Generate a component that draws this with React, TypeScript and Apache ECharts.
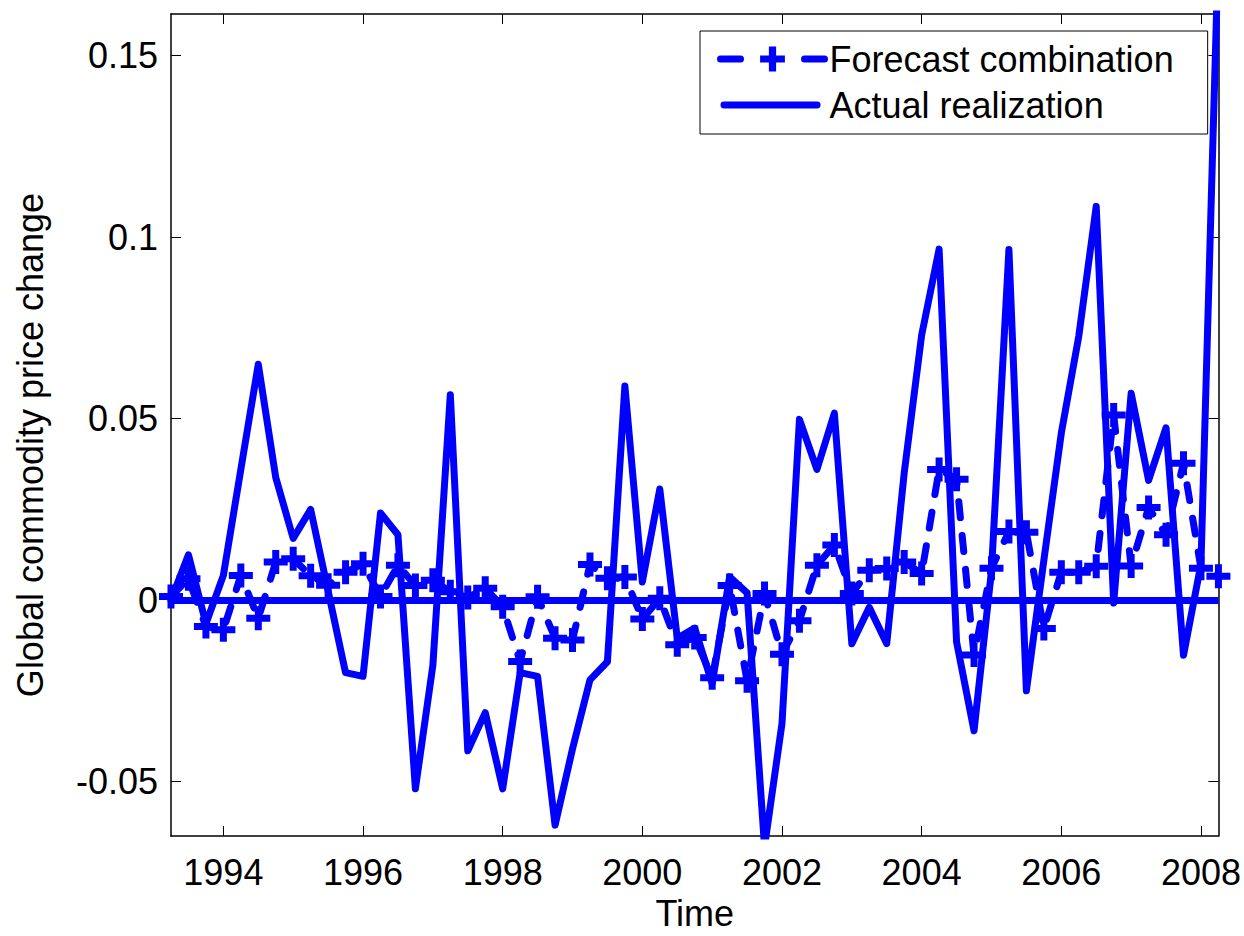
import React, { useEffect, useRef } from "react";
import * as echarts from "echarts";

// Quarterly time axis: first observation 1993.25 (1993Q2), one value per quarter
const startYear = 1993.25;
const quarterStep = 0.25;

const forecastCombination = [
  0.001, 0.0059, -0.0073, -0.0082, 0.0068, -0.005, 0.0105, 0.0114, 0.0067, 0.0041,
  0.0077, 0.01, 0.001, 0.0096, 0.004, 0.0055, 0.0023, 0.0007, 0.0033, -0.0018,
  -0.0169, 0.0009, -0.0105, -0.011, 0.0098, 0.006, 0.0064, -0.0052, 0.0005, -0.0123,
  -0.0103, -0.0214, 0.004, -0.0222, 0.0018, -0.0149, -0.0057, 0.0096, 0.0152, 0.0018,
  0.0082, 0.0087, 0.0105, 0.0073, 0.036, 0.0333, -0.0151, 0.0088, 0.0189, 0.0187,
  -0.0078, 0.0077, 0.0077, 0.0093, 0.051, 0.0094, 0.0255, 0.018, 0.0377, 0.0088,
  0.0066,
];

const actualRealization = [
  0.0, 0.0125, -0.0065, 0.0068, 0.036, 0.065, 0.0338, 0.017, 0.025, 0.0025,
  -0.02, -0.021, 0.024, 0.018, -0.052, -0.018, 0.0566, -0.0415, -0.031, -0.052,
  -0.02, -0.021, -0.062, -0.041, -0.022, -0.017, 0.059, 0.005, 0.0306, -0.0105,
  -0.0077, -0.023, 0.0064, 0.002, -0.068, -0.034, 0.0498, 0.036, 0.0515, -0.012,
  -0.002, -0.012, 0.035, 0.073, 0.0967, -0.0115, -0.036, 0.008, 0.0966, -0.025,
  0.011, 0.046, 0.0727, 0.1085, -0.0008, 0.057, 0.033, 0.0475, -0.0152, 0.0099,
  0.18,
];

const xTickValues = [1994, 1996, 1998, 2000, 2002, 2004, 2006, 2008];
const yTickValues = [-0.05, 0, 0.05, 0.1, 0.15];
const xRange = [1993.25, 2008.25];
const yRange = [-0.065, 0.1615];

const seriesNames = ["Forecast combination", "Actual realization"];
const xTitle = "Time";
const yTitle = "Global commodity price change";

const FONT = "'Liberation Sans', Arial, Helvetica, sans-serif";
const BLUE = "#0000ff";
const PLUS = "path://M8.5,0h7v8.5h8.5v7h-8.5v8.5h-7v-8.5h-8.5v-7h8.5z";
// solid legend sample: a rounded bar inside a 104x31 box (corner dots fix the box)
const SOLID_ICON =
  "path://M0,0h0.01v0.01h-0.01zM103.99,30.99h0.01v0.01h-0.01zM1.5,12h95a3.5,3.5 0 0 1 0,7h-95a3.5,3.5 0 0 1 0,-7z";

export default function App() {
  const ref = useRef<HTMLDivElement>(null);

  useEffect(() => {
    document.body.style.margin = "0";
    const chart = echarts.init(ref.current as HTMLDivElement, null, { renderer: "svg" });
    const toPairs = (vals: number[]) => vals.map((v, i) => [startYear + i * quarterStep, v]);

    const axisLine = { show: true, onZero: false, lineStyle: { color: "#000", width: 1.5 } };
    const tickStyle = { color: "#000", width: 1 };

    const option: any = {
      animation: false,
      backgroundColor: "#fff",
      textStyle: { fontFamily: FONT },
      grid: { left: 171, top: 14, right: 23, bottom: 93, containLabel: false },
      xAxis: [
        {
          type: "value",
          min: xRange[0],
          max: xRange[1],
          position: "bottom",
          axisLine,
          axisTick: { show: true, inside: true, length: 10, lineStyle: tickStyle, customValues: xTickValues },
          axisLabel: {
            show: true,
            customValues: xTickValues,
            formatter: (v: number) => String(v),
            fontSize: 36,
            color: "#000",
            fontFamily: FONT,
            margin: 18,
          },
          splitLine: { show: false },
          name: xTitle,
          nameLocation: "middle",
          nameGap: 59,
          nameTextStyle: { fontSize: 36, color: "#000", fontFamily: FONT },
        },
        {
          type: "value",
          min: xRange[0],
          max: xRange[1],
          position: "top",
          axisLine,
          axisTick: { show: true, inside: true, length: 10, lineStyle: tickStyle, customValues: xTickValues },
          axisLabel: { show: false },
          splitLine: { show: false },
        },
      ],
      yAxis: [
        {
          type: "value",
          min: yRange[0],
          max: yRange[1],
          position: "left",
          axisLine,
          axisTick: { show: true, inside: true, length: 10, lineStyle: tickStyle, customValues: yTickValues },
          axisLabel: {
            show: true,
            customValues: yTickValues,
            formatter: (v: number) => String(v),
            fontSize: 36,
            color: "#000",
            fontFamily: FONT,
            margin: 13,
          },
          splitLine: { show: false },
        },
        {
          type: "value",
          min: yRange[0],
          max: yRange[1],
          position: "right",
          axisLine,
          axisTick: { show: true, inside: true, length: 10, lineStyle: tickStyle, customValues: yTickValues },
          axisLabel: { show: false },
          splitLine: { show: false },
        },
      ],
      legend: {
        left: 700,
        top: 31,
        orient: "vertical",
        align: "left",
        padding: [10, 34, 11, 17],
        itemWidth: 104,
        itemHeight: 31,
        itemGap: 10,
        borderColor: "#000",
        borderWidth: 1,
        backgroundColor: "#fff",
        lineStyle: { type: [20, 64], width: 7 },
        textStyle: { fontSize: 36, color: "#000", fontFamily: FONT },
        data: [
          { name: seriesNames[0] },
          { name: seriesNames[1], icon: SOLID_ICON },
        ],
      },
      graphic: [
        {
          type: "text",
          x: 30,
          y: 445,
          rotation: Math.PI / 2,
          style: {
            text: yTitle,
            fontSize: 36,
            fontFamily: FONT,
            fill: "#000",
            textAlign: "center",
            textVerticalAlign: "middle",
          },
        },
      ],
      series: [
        {
          name: seriesNames[0],
          type: "line",
          data: toPairs(forecastCombination),
          symbol: PLUS,
          symbolSize: 24,
          showSymbol: true,
          showAllSymbol: true,
          itemStyle: { color: BLUE, borderWidth: 0 },
          lineStyle: { color: BLUE, width: 7, type: [16, 18], cap: "round", join: "round" },
          clip: true,
          silent: true,
          z: 3,
        },
        {
          name: seriesNames[1],
          type: "line",
          data: toPairs(actualRealization),
          symbol: "none",
          showSymbol: false,
          itemStyle: { color: BLUE },
          lineStyle: { color: BLUE, width: 7, type: "solid", cap: "round", join: "round" },
          clip: true,
          silent: true,
          z: 2,
          markLine: {
            silent: true,
            symbol: ["none", "none"],
            label: { show: false },
            lineStyle: { color: BLUE, width: 7, type: "solid" },
            data: [{ yAxis: 0 }],
          },
        },
      ],
    };

    chart.setOption(option);
    return () => chart.dispose();
  }, []);

  return (
    <div
      ref={ref}
      style={{ position: "fixed", left: 0, top: 0, width: 1244, height: 936, overflow: "hidden", background: "#fff" }}
    />
  );
}
